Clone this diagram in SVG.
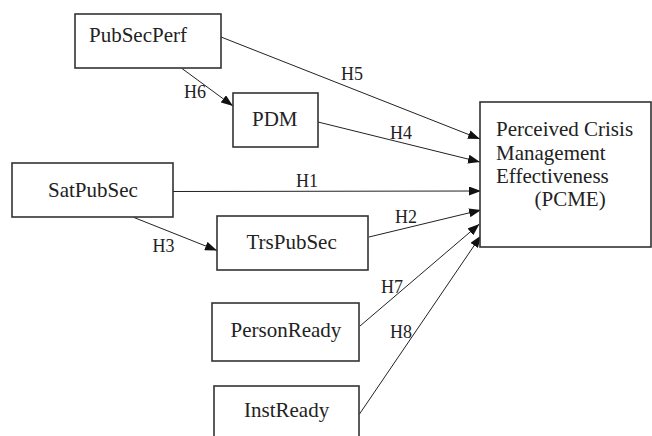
<svg xmlns="http://www.w3.org/2000/svg" width="652" height="436" viewBox="0 0 652 436">
<style>
.box{fill:#fff;stroke:#333;stroke-width:1.6}
.t{font-family:"Liberation Serif",serif;font-size:21px;fill:#222}
.h{font-family:"Liberation Serif",serif;font-size:18px;fill:#222}
.c{stroke:#222;stroke-width:1;fill:none;marker-end:url(#ah)}
</style>
<defs>
<marker id="ah" markerUnits="userSpaceOnUse" markerWidth="13" markerHeight="9" refX="12" refY="4.5" orient="auto">
<path d="M0,0 L12,4.5 L0,9 Z" fill="#111"/>
</marker>
</defs>
<rect width="652" height="436" fill="#fff"/>
<g id="connectors">
<line class="c" x1="221" y1="37" x2="480" y2="139"/>
<line class="c" x1="318" y1="122" x2="480" y2="162"/>
<line class="c" x1="173" y1="191.5" x2="481" y2="191"/>
<line class="c" x1="369" y1="237" x2="481" y2="210"/>
<line class="c" x1="360" y1="326" x2="479.5" y2="224"/>
<line class="c" x1="359.5" y1="414" x2="481" y2="235.5"/>
<line class="c" x1="182" y1="68.5" x2="233" y2="106"/>
<line class="c" x1="134" y1="217.5" x2="217" y2="250.5"/>
<text class="h" x="341" y="80">H5</text>
<text class="h" x="390" y="139">H4</text>
<text class="h" x="296" y="187">H1</text>
<text class="h" x="395" y="223">H2</text>
<text class="h" x="152.5" y="251.5">H3</text>
<text class="h" x="184" y="97.5">H6</text>
<text class="h" x="381" y="293">H7</text>
<text class="h" x="390" y="337.5">H8</text>
</g>
<g id="PubSecPerf">
<rect class="box" x="75" y="14" width="146" height="54"/>
<text class="t" x="89" y="41.5">PubSecPerf</text>
</g>
<g id="PDM">
<rect class="box" x="233" y="93" width="85" height="54"/>
<text class="t" x="252" y="126">PDM</text>
</g>
<g id="SatPubSec">
<rect class="box" x="12" y="163" width="161" height="54"/>
<text class="t" x="48" y="196.5">SatPubSec</text>
</g>
<g id="TrsPubSec">
<rect class="box" x="217" y="216" width="151" height="54"/>
<text class="t" x="246.5" y="249">TrsPubSec</text>
</g>
<g id="PersonReady">
<rect class="box" x="212" y="303" width="147" height="58"/>
<text class="t" x="230.5" y="337">PersonReady</text>
</g>
<g id="InstReady">
<rect class="box" x="214" y="386" width="145" height="56"/>
<text class="t" x="244" y="417">InstReady</text>
</g>
<g id="PCME">
<rect class="box" x="480" y="102" width="171" height="145"/>
<text class="t" x="496" y="136">Perceived Crisis</text>
<text class="t" x="496" y="159.5">Management</text>
<text class="t" x="496" y="183">Effectiveness</text>
<text class="t" x="534.5" y="206">(PCME)</text>
</g>
</svg>
